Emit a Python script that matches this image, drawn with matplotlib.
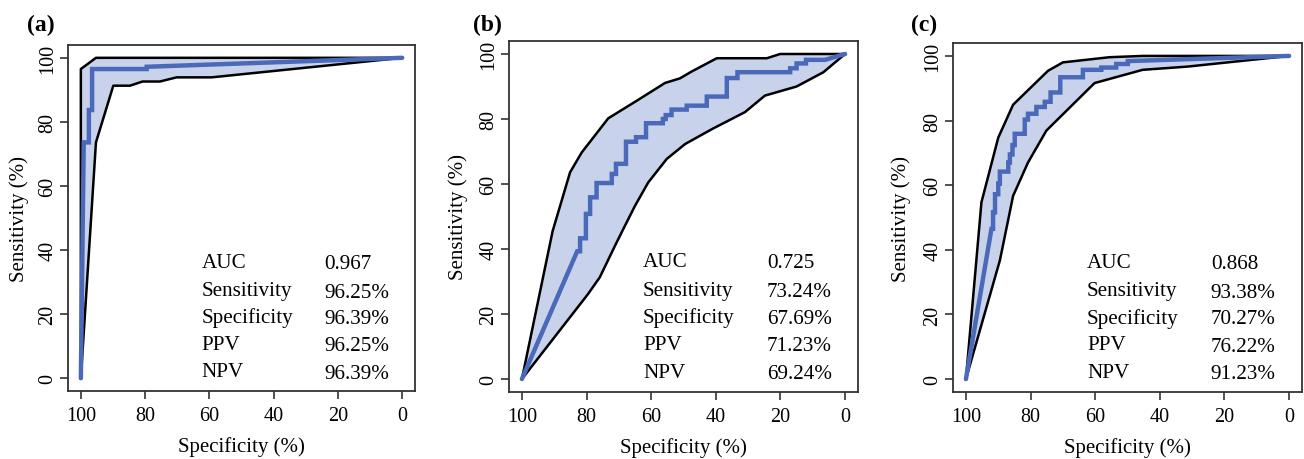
import matplotlib
matplotlib.use("Agg")
import matplotlib.pyplot as plt
import numpy as np

plt.rcParams['font.family'] = ['Liberation Serif', 'DejaVu Serif']

# ---------------- data ----------------
panel_labels = ["(a)", "(b)", "(c)"]
stat_names = ["AUC", "Sensitivity", "Specificity", "PPV", "NPV"]

# Panel (a)
a_roc_spec = [100, 99.1, 97.5, 97.5, 96.5, 96.5, 79.5, 79.5, 0]
a_roc_sens = [0, 73.6, 73.6, 83.7, 83.7, 96.5, 96.5, 97.2, 100]
a_up_spec = [100, 100, 95.3, 0]
a_up_sens = [0, 96.5, 100, 100]
a_lo_spec = [100, 95.3, 89.9, 84.7, 80.8, 75.4, 70.2, 59.3, 0]
a_lo_sens = [0, 73.6, 91.3, 91.3, 92.6, 92.6, 93.9, 93.9, 100]
a_stats = ["0.967", "96.25%", "96.39%", "96.25%", "96.39%"]

# Panel (b)
b_roc_spec = [100, 82.9, 82.0, 82.0, 80.2, 80.2, 78.9, 78.9, 76.9, 76.9, 72.2, 72.2,
              70.9, 70.9, 67.8, 67.8, 64.7, 64.7, 61.6, 61.6, 56.4, 56.4, 55.5, 55.5,
              53.7, 53.7, 49.0, 49.0, 42.8, 42.8, 36.6, 36.6, 33.3, 33.3, 17.0, 17.0,
              15.0, 15.0, 12.1, 12.1, 6.2, 0]
b_roc_sens = [0, 39.3, 39.3, 43.3, 43.3, 50.8, 50.8, 55.9, 55.9, 60.3, 60.3, 63.1,
              63.1, 66.2, 66.2, 73.0, 73.0, 74.4, 74.4, 78.7, 78.7, 80.0, 80.0, 81.2,
              81.2, 82.9, 82.9, 84.1, 84.1, 86.9, 86.9, 92.6, 92.6, 94.4, 94.4, 95.6,
              95.6, 97.1, 97.1, 98.2, 98.2, 100]
b_up_spec = [100, 90.5, 85.1, 81.5, 73.3, 64.5, 55.7, 51.1, 47.5, 39.7, 24.2, 20.1, 0]
b_up_sens = [0, 45.5, 63.6, 69.7, 80.2, 85.6, 91.1, 92.5, 94.6, 98.7, 98.7, 100, 100]
b_lo_spec = [100, 79.5, 75.9, 71.2, 68.6, 65.0, 60.9, 55.2, 49.5, 40.8, 31.0, 24.8, 15.0, 6.7, 0]
b_lo_sens = [0, 26.2, 31.3, 41.0, 46.2, 53.3, 60.5, 67.7, 72.3, 77.1, 82.1, 87.2, 90.0, 94.4, 100]
b_stats = ["0.725", "73.24%", "67.69%", "71.23%", "69.24%"]

# Panel (c)
c_roc_spec = [100, 92.1, 91.6, 91.6, 91.0, 91.0, 90.0, 90.0, 89.5, 89.5, 86.9, 86.9,
              86.4, 86.4, 85.6, 85.6, 84.9, 84.9, 81.8, 81.8, 80.8, 80.8, 78.2, 78.2,
              75.6, 75.6, 73.8, 73.8, 70.8, 70.8, 63.8, 63.8, 58.1, 58.1, 53.5, 53.5,
              49.9, 49.9, 0]
c_roc_sens = [0, 46.5, 46.5, 51.6, 51.6, 57.2, 57.2, 60.5, 60.5, 64.2, 64.2, 67.0,
              67.0, 69.5, 69.5, 72.4, 72.4, 75.9, 75.9, 80.3, 80.3, 82.1, 82.1, 84.2,
              84.2, 85.8, 85.8, 88.7, 88.7, 93.4, 93.4, 95.7, 95.7, 96.4, 96.4, 97.5,
              97.5, 98.4, 100]
c_up_spec = [100, 95.2, 90.0, 85.4, 74.6, 70.0, 55.6, 45.3, 0]
c_up_sens = [0, 54.7, 74.7, 84.9, 95.4, 98.0, 99.6, 100, 100]
c_lo_spec = [100, 89.5, 85.4, 80.8, 75.1, 60.2, 45.3, 31.4, 0]
c_lo_sens = [0, 36.7, 56.7, 67.0, 76.9, 91.6, 95.7, 96.7, 100]
c_stats = ["0.868", "93.38%", "70.27%", "76.22%", "91.23%"]

panels = [
    (a_roc_spec, a_roc_sens, a_up_spec, a_up_sens, a_lo_spec, a_lo_sens, a_stats),
    (b_roc_spec, b_roc_sens, b_up_spec, b_up_sens, b_lo_spec, b_lo_sens, b_stats),
    (c_roc_spec, c_roc_sens, c_up_spec, c_up_sens, c_lo_spec, c_lo_sens, c_stats),
]

# ---------------- layout ----------------
W, H = 1304, 460
fig = plt.figure(figsize=(W / 100, H / 100), dpi=100)
boxes_px = [(68, 415, 46, 392), (509, 858, 42, 393), (953, 1302, 44, 393)]
label_px = [(41, 25), (487, 25), (924, 25)]
ylab_px = [19, 458, 901]

line_blue = "#4a69b9"
fill_blue = "#c8d2ea"

for i, (rs, rn, us, un, ls, ln, stats) in enumerate(panels):
    l, r, t, b = boxes_px[i]
    ax = fig.add_axes([l / W, 1 - b / H, (r - l) / W, (b - t) / H])
    # band polygon: upper bound then lower bound reversed
    poly_x = list(us) + list(ls)[::-1]
    poly_y = list(un) + list(ln)[::-1]
    ax.fill(poly_x, poly_y, color=fill_blue, lw=0, zorder=1)
    ax.plot(us, un, color="black", lw=1.8, zorder=2, solid_joinstyle="round")
    ax.plot(ls, ln, color="black", lw=1.8, zorder=2, solid_joinstyle="round")
    ax.plot(rs, rn, color=line_blue, lw=3.2, zorder=3, solid_capstyle="round",
            solid_joinstyle="miter")

    ax.set_xlim(104, -4)
    ax.set_ylim(-4, 104)
    ax.set_xticks([100, 80, 60, 40, 20, 0])
    ax.set_yticks([0, 20, 40, 60, 80, 100])
    ax.tick_params(axis="both", direction="out", length=6, width=1.2,
                   labelsize=14.5, color="#333333")
    ax.tick_params(axis="x", pad=5)
    ax.tick_params(axis="y", pad=1.5)
    for lab in ax.get_yticklabels():
        lab.set_rotation(90)
        lab.set_va("center")
    for sp in ax.spines.values():
        sp.set_linewidth(1.3)
        sp.set_color("#333333")
    ax.set_xlabel("Specificity (%)", fontsize=15, labelpad=8)

    # stats text
    ys = [36.2, 27.3, 19.0, 10.6, 2.0]
    for name, val, yy in zip(stat_names, stats, ys):
        ax.text(62.5, yy, name, fontsize=15.2, ha="left", va="center", zorder=4)
        ax.text(24.2, yy - 0.4, val, fontsize=15.2, ha="left", va="center", zorder=4)

    fig.text(ylab_px[i] / W, 1 - ((t + b) / 2) / H, "Sensitivity (%)", rotation=90,
             fontsize=15, ha="center", va="center")
    lx, ly = label_px[i]
    fig.text(lx / W, 1 - ly / H, panel_labels[i], fontsize=17, fontweight="bold",
             ha="center", va="center")

fig.savefig("out.png", dpi=100)
